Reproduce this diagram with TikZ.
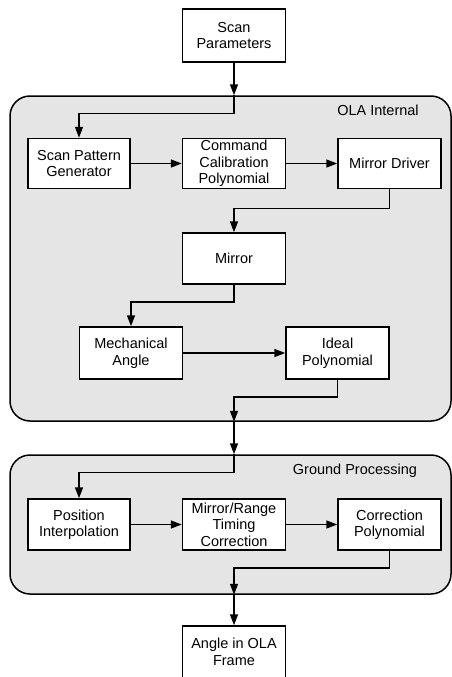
\documentclass[tikz,border=0pt]{standalone}
\usepackage{fontspec}
\setmainfont{Liberation Sans}
\usepackage{tikz}
\usetikzlibrary{arrows.meta,calc}

\tikzset{
  blk/.style={draw,fill=white,line width=1.5pt,align=center,inner sep=0pt,
    minimum width=103pt,minimum height=50pt,font=\fontsize{14.5}{16.5}\selectfont},
  panel/.style={draw,fill=black!10,line width=1.5pt,rounded corners=20pt,inner sep=0pt},
  tag/.style={font=\fontsize{14.5}{16.5}\selectfont},
  arr/.style={line width=1.5pt,-{Triangle[length=11pt,width=8pt]}}
}

\begin{document}
\begin{tikzpicture}[x=1pt,y=-1pt]
              \useasboundingbox (0,0) rectangle (452,677);
              \node[panel,minimum width=441pt,minimum height=325pt](ola)at(230.5,258.5){};
              \node[panel,minimum width=441pt,minimum height=139pt](gp)at(230.5,524.5){};
              \node[tag](olatag)at(378,110){OLA Internal};
              \node[tag](gptag)at(355,471){Ground Processing};
              \node[blk,minimum height=53pt](scan)at(234,35.5){Scan\\Parameters};
              \node[blk,minimum width=102pt](spg)at(79,163.5){Scan Pattern\\Generator};
              \node[blk](ccp)at(234,163.5){Command\\Calibration\\Polynomial};
              \node[blk](md)at(389.5,163.5){Mirror Driver};
              \node[blk,minimum height=51pt](mirror)at(234,258.5){Mirror};
              \node[blk,minimum height=52pt](mech)at(131,353){Mechanical\\Angle};
              \node[blk,minimum height=52pt](ideal)at(337.5,353){Ideal\\Polynomial};
              \node[blk,minimum width=102pt,minimum height=51pt](pos)at(79,524.5){Position\\Interpolation};
              \node[blk,minimum height=51pt](mrt)at(234,524.5){Mirror/Range\\Timing\\Correction};
              \node[blk,minimum height=51pt](corr)at(389.5,524.5){Correction\\Polynomial};
              \node[blk,minimum height=52pt](angle)at(234,652){Angle in OLA\\Frame};
              \draw[arr](scan)--(scan|-ola.north);
              \draw[arr](scan|-ola.north)--++(0,18)-|(spg);
              \draw[arr](spg)--(ccp);
              \draw[arr](ccp)--(md);
              \draw[arr](md.south)--++(0,19)-|(mirror);
              \draw[arr](mirror.south)--++(0,17)-|(mech);
              \draw[arr](mech)--(ideal);
              \draw[arr](ideal.south)--++(0,17)-|(mirror|-ola.south);
              \draw[arr](mirror|-ola.south)--(mirror|-gp.north);
              \draw[arr](mirror|-gp.north)--++(0,18)-|(pos);
              \draw[arr](pos)--(mrt);
              \draw[arr](mrt)--(corr);
              \draw[arr](corr.south)--++(0,17)-|(mrt|-gp.south);
              \draw[arr](mrt|-gp.south)--(angle);
            \end{tikzpicture}
\end{document}
